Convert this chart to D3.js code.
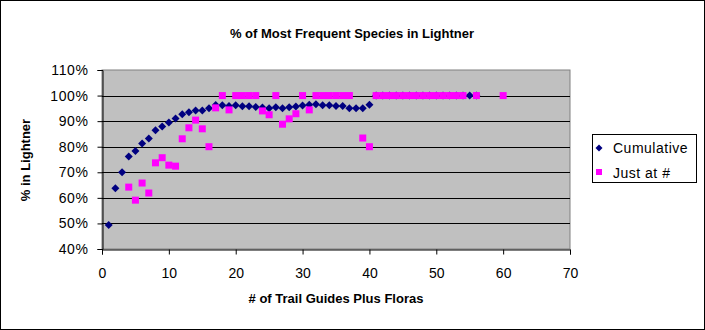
<!DOCTYPE html>
<html>
<head>
<meta charset="utf-8">
<script src="https://cdn.jsdelivr.net/npm/d3@7"></script>
<style>
  html, body { margin: 0; padding: 0; background: #fff; }
  svg { display: block; font-family: "Liberation Sans", Arial, sans-serif; }
</style>
</head>
<body>
<svg id="chart" width="705" height="330"></svg>
<script>
const title = "% of Most Frequent Species in Lightner";
const xLabel = "# of Trail Guides Plus Floras";
const yLabel = "% in Lightner";
const seriesNames = ["Cumulative", "Just at #"];

const cumX = [1,2,3,4,5,6,7,8,9,10,11,12,13,14,15,16,17,18,19,20,21,22,23,24,25,26,27,28,29,30,31,32,33,34,35,36,37,38,39,40,41,42,43,44,45,46,47,48,49,50,51,52,53,54,55,56];
const cumY = [0.494,0.638,0.700,0.762,0.783,0.813,0.832,0.864,0.879,0.895,0.910,0.927,0.935,0.942,0.942,0.950,0.963,0.962,0.959,0.962,0.958,0.958,0.955,0.953,0.950,0.954,0.950,0.954,0.957,0.961,0.964,0.966,0.962,0.962,0.959,0.959,0.950,0.950,0.950,0.964,1,1,1,1,1,1,1,1,1,1,1,1,1,1,1,1];

const justX = [4,5,6,7,8,9,10,11,12,13,14,15,16,17,18,19,20,21,22,23,24,25,26,27,28,29,30,31,32,33,34,35,36,37,39,40,41,42,43,44,45,46,47,48,49,50,51,52,53,54,56,60];
const justY = [0.642,0.591,0.658,0.619,0.737,0.757,0.728,0.724,0.831,0.874,0.904,0.870,0.800,0.952,1,0.944,1,1,1,1,0.940,0.925,1,0.888,0.909,0.929,1,0.944,1,1,1,1,1,1,0.834,0.800,1,1,1,1,1,1,1,1,1,1,1,1,1,1,1,1];

const xTicks = [0,10,20,30,40,50,60,70];
const yTicks = [0.4,0.5,0.6,0.7,0.8,0.9,1.0,1.1];

const svg = d3.select("#chart");
const W = 705, H = 330;

svg.append("rect").attr("x",0.5).attr("y",0.5).attr("width",W-1).attr("height",H-1)
  .attr("fill","#fff").attr("stroke","#000");

const x = d3.scaleLinear().domain([0,70]).range([102,570]);
const y = d3.scaleLinear().domain([0.4,1.1]).range([249,70]);

// plot area
svg.append("rect").attr("x",x(0)).attr("y",y(1.1)).attr("width",x(70)-x(0)).attr("height",y(0.4)-y(1.1))
  .attr("fill","#c0c0c0").attr("stroke","#808080");

// gridlines
svg.append("g").selectAll("line").data(yTicks.filter(d => d > 0.4 && d < 1.1)).join("line")
  .attr("x1",x(0)).attr("x2",x(70)).attr("y1",d=>Math.round(y(d))+0.5).attr("y2",d=>Math.round(y(d))+0.5)
  .attr("stroke","#000").attr("stroke-width",1);

// axes
const xAxis = d3.axisBottom(x).tickValues(xTicks).tickSize(5).tickPadding(14).tickFormat(d3.format("d"));
const gx = svg.append("g").attr("transform",`translate(0,${Math.round(y(0.4))+0.5})`).call(xAxis);
const yAxis = d3.axisLeft(y).tickValues(yTicks).tickSize(5).tickPadding(9).tickFormat(d3.format(".0%"));
const gy = svg.append("g").attr("transform",`translate(${Math.round(x(0))+0.5},0)`).call(yAxis);
[gx, gy].forEach(g => {
  g.selectAll("path").attr("stroke","#000");
  g.selectAll("line").attr("stroke","#000");
  g.selectAll("text").attr("font-family","'Liberation Sans', Arial, sans-serif").attr("font-size",13).attr("fill","#000");
});
gy.selectAll("text").attr("font-size",14).attr("letter-spacing",0.6);
gx.selectAll("text").attr("font-size",14);

// series
const diamond = s => `M0,${-s}L${s},0L0,${s}L${-s},0Z`;
svg.append("g").selectAll("path").data(cumX.map((d,i)=>[d,cumY[i]])).join("path")
  .attr("d", diamond(4))
  .attr("transform", d => `translate(${x(d[0])},${y(d[1])})`)
  .attr("fill","#000080");
svg.append("g").selectAll("rect").data(justX.map((d,i)=>[d,justY[i]])).join("rect")
  .attr("x", d => x(d[0]) - 3.5).attr("y", d => y(d[1]) - 3.5)
  .attr("width",7).attr("height",7).attr("fill","#ff00ff");

// titles
svg.append("text").attr("x",352).attr("y",38).attr("text-anchor","middle")
  .attr("font-size",13).attr("font-weight","bold").text(title);
svg.append("text").attr("x",336).attr("y",303).attr("text-anchor","middle")
  .attr("font-size",13).attr("font-weight","bold").text(xLabel);
svg.append("text").attr("transform","translate(30,160) rotate(-90)").attr("text-anchor","middle")
  .attr("font-size",13).attr("font-weight","bold").text(yLabel);

// legend
const lg = svg.append("g");
lg.append("rect").attr("x",592.5).attr("y",134.5).attr("width",104).attr("height",48)
  .attr("fill","#fff").attr("stroke","#000");
lg.append("path").attr("d",diamond(3.5)).attr("transform","translate(599,148)").attr("fill","#000080");
lg.append("rect").attr("x",596).attr("y",169).attr("width",6).attr("height",6).attr("fill","#ff00ff");
lg.append("text").attr("x",613).attr("y",153).attr("font-size",14).attr("letter-spacing",0.5).text(seriesNames[0]);
lg.append("text").attr("x",613).attr("y",178).attr("font-size",14).attr("letter-spacing",0.5).text(seriesNames[1]);
</script>
</body>
</html>
